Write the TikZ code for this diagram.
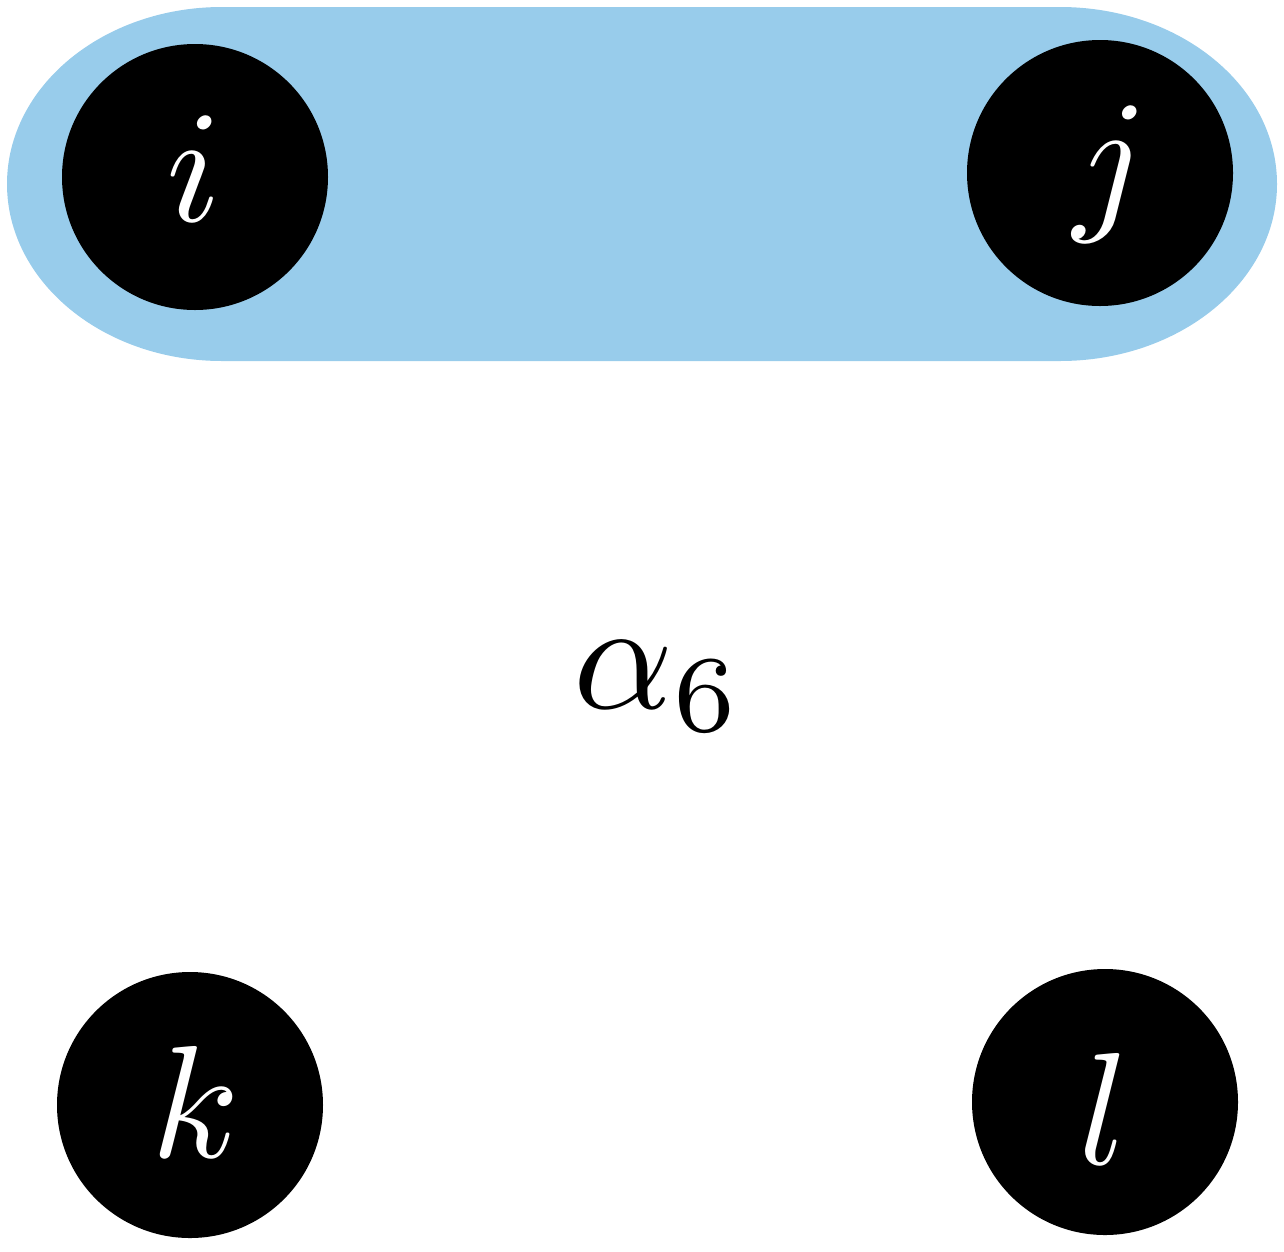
\documentclass[tikz,border=0pt]{standalone}
\definecolor{hyperblue}{RGB}{152,204,235}
\newcommand{\hugemath}[1]{\scalebox{16}{$#1$}}
\tikzset{
  vertex/.style={circle, fill=black, minimum size=266pt, inner sep=0pt},
  letter/.style={text=white, inner sep=0pt},
  biglabel/.style={inner sep=0pt}
}
\begin{document}
\begin{tikzpicture}[x=1pt,y=-1pt]
\useasboundingbox (0,0) rectangle (1284,1251);
\fill[hyperblue] (222,7) -- (1060,7) arc[start angle=-90, end angle=90, x radius=217, y radius=177]
  -- (222,361) arc[start angle=90, end angle=270, x radius=215, y radius=177] -- cycle;
\node[vertex, label={[letter, xshift=-1pt, yshift=8pt]center:\hugemath{i}}] (i) at (195,177) {};
\node[vertex, label={[letter, xshift=11pt, yshift=-1pt]center:\hugemath{j}}] (j) at (1100,173) {};
\node[vertex, label={[letter, xshift=6pt, yshift=3pt]center:\hugemath{k}}] (k) at (190,1105) {};
\node[vertex, label={[letter, xshift=-1pt, yshift=-7pt]center:\hugemath{l}}] (l) at (1105,1102) {};
\node[biglabel, anchor=base west] (alpha) at (573,708) {\scalebox{15.6}{$\alpha_6$}};
\end{tikzpicture}
\end{document}
